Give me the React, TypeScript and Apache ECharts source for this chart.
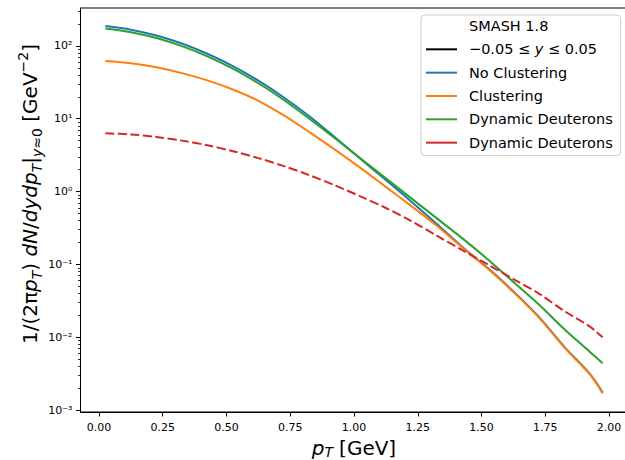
import React, { useEffect, useRef } from 'react';
import * as echarts from 'echarts';

// transverse momentum bins (GeV)
const pT = [0.025, 0.125, 0.225, 0.325, 0.425, 0.525, 0.625, 0.725, 0.825, 0.925, 1.025, 1.125, 1.225, 1.325, 1.425, 1.525, 1.625, 1.725, 1.825, 1.925, 1.975];
// 1/(2π pT) dN/dy dpT  [GeV^-2]
const noClustering = [187, 167, 139, 108, 78.0, 52.7, 33.3, 19.6, 10.8, 5.58, 2.83, 1.44, 0.728, 0.359, 0.174, 0.0891, 0.0427, 0.0191, 0.00741, 0.00316, 0.00176];
const clustering = [61.8, 57.7, 50.8, 42.3, 33.6, 25.2, 17.6, 11.1, 6.55, 3.77, 2.12, 1.16, 0.632, 0.339, 0.17, 0.0871, 0.0417, 0.0186, 0.00724, 0.00309, 0.0017];
const dynamicDeuterons = [173, 154, 128, 99.3, 71.9, 48.6, 30.7, 18.1, 10.0, 5.4, 2.86, 1.52, 0.807, 0.429, 0.228, 0.117, 0.0575, 0.0282, 0.0129, 0.00631, 0.00442];
const dynamicDeuteronsDashed = [6.3, 6.1, 5.62, 5.01, 4.32, 3.59, 2.88, 2.24, 1.68, 1.22, 0.861, 0.596, 0.394, 0.248, 0.157, 0.1, 0.0631, 0.0398, 0.0229, 0.014, 0.01];

const xTicks = [0, 0.25, 0.5, 0.75, 1, 1.25, 1.5, 1.75, 2];
const yDecades = [-3, -2, -1, 0, 1, 2];
const yTickLabels = ['10⁻³', '10⁻²', '10⁻¹', '10⁰', '10¹', '10²'];
const seriesNames = ['SMASH 1.8', 'rapidity', 'No Clustering', 'Clustering', 'Dynamic Deuterons', 'Dynamic Deuterons dashed'];
const legendLabels = ['SMASH 1.8', '−0.05 ≤ {i|y} ≤ 0.05', 'No Clustering', 'Clustering', 'Dynamic Deuterons', 'Dynamic Deuterons'];

const X_MIN = -0.0725;
const X_MAX = 2.0725;
const Y_MIN = -3.025;
const Y_MAX = 2.52;

export default function App() {
  const ref = useRef<HTMLDivElement>(null);
  useEffect(() => {
    const chart = echarts.init(ref.current!, null, { renderer: 'svg' });
    const font = 'DejaVu Sans';
    const minorTicks: number[] = [];
    for (let d = -4; d <= 2; d++) {
      for (let k = 2; k <= 9; k++) {
        const v = d + Math.log10(k);
        if (v > Y_MIN && v < Y_MAX) minorTicks.push(v);
      }
    }
    const pairs = (vals: number[]) => pT.map((x, i) => [x, Math.log10(vals[i])]);
    const line = (name: string, vals: number[], color: string, dashed = false) => ({
      name,
      type: 'line',
      data: pairs(vals),
      showSymbol: false,
      symbol: 'none',
      smooth: 0.3,
      silent: true,
      color,
      lineStyle: { color, width: 2, type: dashed ? [9, 3.5] : 'solid' },
      itemStyle: { color },
    });
    const dummy = (name: string, color: string) => ({
      name,
      type: 'line',
      data: [],
      symbol: 'none',
      color,
      lineStyle: { color, width: 2 },
      itemStyle: { color },
    });
    const nameStyle = (pad: number[], lh: number, subLh: number) => ({
      fontFamily: font,
      fontSize: 20,
      color: '#000',
      lineHeight: lh,
      padding: pad,
      rich: {
        i: { fontFamily: font, fontSize: 20, fontStyle: 'italic', color: '#000' },
        sub: { fontFamily: font, fontSize: 14, lineHeight: subLh, fontStyle: 'italic', verticalAlign: 'bottom', color: '#000' },
        subr: { fontFamily: font, fontSize: 14, lineHeight: subLh, verticalAlign: 'bottom', color: '#000' },
        sup: { fontFamily: font, fontSize: 14, lineHeight: subLh, verticalAlign: 'top', color: '#000' },
        g: { fontFamily: font, fontSize: 20, color: '#000', padding: [0, 0, 0, 6] },
      },
    });
    chart.setOption({
      animation: false,
      backgroundColor: '#fff',
      textStyle: { fontFamily: font },
      grid: {
        left: 80.5,
        top: 8,
        width: 547,
        height: 404,
        show: true,
        borderColor: '#000',
        borderWidth: 1,
        backgroundColor: 'transparent',
        containLabel: false,
        outerBoundsMode: 'none',
      },
      xAxis: {
        type: 'value',
        min: X_MIN,
        max: X_MAX,
        axisLine: { show: true, onZero: false, lineStyle: { color: '#000', width: 1 } },
        axisTick: { show: true, length: 4.5, customValues: xTicks, lineStyle: { color: '#000', width: 1 } },
        axisLabel: {
          customValues: xTicks,
          formatter: (v: number) => v.toFixed(2),
          fontSize: 11,
          fontFamily: font,
          color: '#000',
          margin: 10,
        },
        splitLine: { show: false },
        name: '{i|p}{sub|T}{g|[GeV]}',
        nameLocation: 'middle',
        nameGap: 25,
        nameMoveOverlap: false,
        nameTextStyle: nameStyle([0, 0, 0, 0], 22, 10),
      },
      yAxis: [
        {
          type: 'value',
          min: Y_MIN,
          max: Y_MAX,
          position: 'left',
          axisLine: { show: true, onZero: false, lineStyle: { color: '#000', width: 1 } },
          axisTick: { show: true, length: 4.5, customValues: yDecades, lineStyle: { color: '#000', width: 1 } },
          axisLabel: {
            customValues: yDecades,
            formatter: (v: number) => yTickLabels[yDecades.indexOf(Math.round(v))] ?? '',
            fontSize: 11,
            fontFamily: font,
            color: '#000',
            margin: 8,
          },
          splitLine: { show: false },
          name: '1/(2π{i|p}{sub|T}) {i|dN}/{i|dydp}{sub|T}|{sub|y}{subr|≈0} [GeV{sup|−2}]',
          nameLocation: 'middle',
          nameRotate: 90,
          nameGap: 37,
          nameMoveOverlap: false,
          nameTextStyle: nameStyle([0, 0, 0, 32], 28, 14),
        },
        {
          type: 'value',
          min: Y_MIN,
          max: Y_MAX,
          position: 'left',
          axisLine: { show: false, onZero: false },
          axisTick: { show: true, length: 2.5, customValues: minorTicks, lineStyle: { color: '#000', width: 0.8 } },
          axisLabel: { show: false },
          splitLine: { show: false },
        },
      ],
      legend: {
        orient: 'vertical',
        left: 421,
        top: 15,
        padding: [3, 8, 5, 5],
        itemWidth: 31,
        itemHeight: 2,
        itemGap: 7.33,
        icon: 'rect',
        selectedMode: false,
        backgroundColor: 'rgba(255,255,255,0.8)',
        borderColor: '#cccccc',
        borderWidth: 1,
        borderRadius: 4,
        itemStyle: { borderWidth: 0 },
        data: seriesNames,
        formatter: (name: string) => legendLabels[seriesNames.indexOf(name)],
        textStyle: {
          fontFamily: font,
          fontSize: 14.5,
          color: '#000',
          lineHeight: 16,
          padding: [0, 0, 0, 7],
          rich: {
            i: { fontFamily: font, fontSize: 14.5, fontStyle: 'italic', color: '#000', lineHeight: 16 },
          },
        },
      },
      series: [
        dummy(seriesNames[0], 'rgba(0,0,0,0)'),
        dummy(seriesNames[1], '#000000'),
        line(seriesNames[2], noClustering, '#1f77b4'),
        line(seriesNames[3], clustering, '#ff7f0e'),
        line(seriesNames[4], dynamicDeuterons, '#2ca02c'),
        line(seriesNames[5], dynamicDeuteronsDashed, '#d62728', true),
      ],
    });
    return () => chart.dispose();
  }, []);
  return <div ref={ref} style={{ position: 'fixed', left: 0, top: 0, width: 625, height: 460 }} />;
}
